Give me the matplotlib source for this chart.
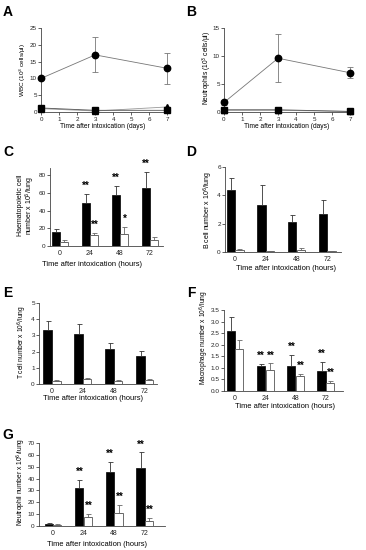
import numpy as np
import matplotlib as mpl
mpl.use('Agg')
import matplotlib.pyplot as plt

W, H, dpi = 366, 550, 100

mpl.rc('font', family=['Liberation Sans', 'DejaVu Sans'])
mpl.rc('axes', linewidth=0.6, edgecolor='#444444')
mpl.rc('xtick', direction='out', color='#444444', labelcolor='#222222')
mpl.rc('ytick', direction='out', color='#444444', labelcolor='#222222')
mpl.rc('xtick.major', size=2., width=0.6, pad=1.5)
mpl.rc('ytick.major', size=2., width=0.6, pad=1.0)

# ---- data -------------------------------------------------
days = [0, 3, 7]
wbc_circ = [10.0, 17.0, 13.0]
wbc_circ_err = [0.3, 5.2, 4.7]
wbc_sq = [1.2, 0.5, 0.5]
wbc_tri = [1.0, 0.3, 1.5]

neu_circ = [1.7, 9.6, 7.0]
neu_circ_err = [0.5, 4.3, 1.0]
neu_sq = [0.4, 0.4, 0.1]
neu_tri = [0.3, 0.3, 0.1]

hours = ['0', '24', '48', '72']

hem_black = [16, 48, 58, 66]
hem_black_err = [3, 11, 10, 18]
hem_white = [5, 12, 14, 7]
hem_white_err = [2, 3, 8, 3]
hem_stars_black = ['', '**', '**', '**']
hem_stars_white = ['', '**', '*', '']

bc_black = [4.4, 3.3, 2.1, 2.7]
bc_black_err = [0.85, 1.4, 0.5, 1.0]
bc_white = [0.15, 0.05, 0.15, 0.05]
bc_white_err = [0.03, 0.02, 0.1, 0.02]

tc_black = [3.35, 3.1, 2.15, 1.75]
tc_black_err = [0.55, 0.6, 0.4, 0.3]
tc_white = [0.2, 0.3, 0.2, 0.25]
tc_white_err = [0.05, 0.08, 0.03, 0.05]

mac_black = [2.6, 1.08, 1.08, 0.87]
mac_black_err = [0.6, 0.1, 0.48, 0.4]
mac_white = [1.83, 0.9, 0.65, 0.35]
mac_white_err = [0.37, 0.3, 0.08, 0.08]
mac_stars_black = ['', '**', '**', '**']
mac_stars_white = ['', '**', '**', '**']

neut_black = [2, 32, 45.5, 49]
neut_black_err = [0.5, 7, 8.5, 13]
neut_white = [1, 7.5, 11, 4.5]
neut_white_err = [0.3, 2.5, 7, 2.5]
neut_stars_black = ['', '**', '**', '**']
neut_stars_white = ['', '**', '**', '**']
# -----------------------------------------------------------

fig = plt.figure(figsize=(W/dpi, H/dpi), dpi=dpi)


def px_axes(left, right, top, bottom):
    return fig.add_axes([left/W, 1-bottom/H, (right-left)/W, (bottom-top)/H])


def style(ax, fs):
    ax.spines['top'].set_visible(False)
    ax.spines['right'].set_visible(False)
    ax.tick_params(labelsize=fs)


def ftext(x, y, s, **kw):
    fig.text(x/W, 1-y/H, s, ha='center', va='center', **kw)


def line_panel(rect, circ, circ_err, sq, tri, ylim, yticks, xlim):
    ax = px_axes(*rect)
    style(ax, 4.5)
    ax.errorbar(days, circ, yerr=circ_err, color='#777777', lw=0.6,
                ecolor='#777777', elinewidth=0.6, capsize=2, capthick=0.6,
                marker='o', ms=4.6, mfc='black', mec='black', clip_on=False, zorder=3)
    ax.plot(days, tri, color='#999999', lw=0.6, marker='^', ms=3.8,
            mfc='black', mec='black', clip_on=False, zorder=3)
    ax.plot(days, sq, color='#555555', lw=0.6, marker='s', ms=4.2,
            mfc='black', mec='black', clip_on=False, zorder=4)
    ax.set_xlim(*xlim)
    ax.set_ylim(*ylim)
    ax.set_xticks(range(0, 8))
    ax.set_yticks(yticks)
    return ax


def bar_panel(rect, xlim, ylim, yticks, black, black_err, white, white_err,
              stars_b=None, stars_w=None, star_off=0.0, yfmt=None):
    ax = px_axes(*rect)
    style(ax, 4.6)
    ax.tick_params(axis='x', labelsize=5)
    x = np.arange(len(hours))
    bw, off = 0.27, 0.14
    ax.bar(x-off, black, bw, color='black', edgecolor='black', lw=0.5,
           yerr=[np.zeros(4), black_err], ecolor='#333333',
           error_kw=dict(elinewidth=0.6, capsize=1.8, capthick=0.6))
    ax.bar(x+off, white, bw, color='white', edgecolor='#555555', lw=0.6,
           yerr=[np.zeros(4), white_err], ecolor='#666666',
           error_kw=dict(elinewidth=0.6, capsize=1.8, capthick=0.6))
    if stars_b:
        for i, s in enumerate(stars_b):
            if s:
                ax.text(x[i]-off, black[i]+black_err[i]+star_off, s,
                        ha='center', va='bottom', fontsize=7, fontweight='bold')
    if stars_w:
        for i, s in enumerate(stars_w):
            if s:
                ax.text(x[i]+off+0.03, white[i]+white_err[i]+star_off, s,
                        ha='center', va='bottom', fontsize=7, fontweight='bold')
    ax.set_xlim(*xlim)
    ax.set_ylim(*ylim)
    ax.set_xticks(x)
    ax.set_xticklabels(hours)
    ax.tick_params(axis='x', length=0, pad=3)
    ax.set_yticks(yticks)
    if yfmt:
        ax.yaxis.set_major_formatter(mpl.ticker.FormatStrFormatter(yfmt))
    return ax


# A
line_panel((41, 170, 28, 112), wbc_circ, wbc_circ_err, wbc_sq, wbc_tri,
           (0, 25), range(0, 26, 5), (0, 7.15))
# B
line_panel((224, 352, 28, 112), neu_circ, neu_circ_err, neu_sq, neu_tri,
           (0, 15), range(0, 16, 5), (0, 7.1))

# C
bar_panel((50, 163, 168, 246), (-0.33, 3.43), (0, 88), range(0, 81, 20),
          hem_black, hem_black_err, hem_white, hem_white_err,
          hem_stars_black, hem_stars_white, star_off=3)
# D
bar_panel((225, 341, 167, 252), (-0.33, 3.45), (0, 6), range(0, 7, 2),
          bc_black, bc_black_err, bc_white, bc_white_err)
# E
bar_panel((39, 157, 303, 384), (-0.42, 3.39), (0, 5), range(0, 6),
          tc_black, tc_black_err, tc_white, tc_white_err)
# F
bar_panel((224, 343, 310, 391), (-0.37, 3.57), (0, 3.5), np.arange(0, 3.6, 0.5),
          mac_black, mac_black_err, mac_white, mac_white_err,
          mac_stars_black, mac_stars_white, star_off=0.12, yfmt='%.1f')
# G
bar_panel((39, 165, 443, 526), (-0.46, 3.66), (0, 70), range(0, 71, 10),
          neut_black, neut_black_err, neut_white, neut_white_err,
          neut_stars_black, neut_stars_white, star_off=2.5)

# panel letters
for s, x, y in [('A', 8, 12), ('B', 191, 12), ('C', 8, 152), ('D', 191, 152),
                ('E', 8, 293), ('F', 191, 293), ('G', 8, 435)]:
    ftext(x, y, s, fontsize=10, fontweight='bold')

# x labels
ftext(103, 127, 'Time after intoxication (days)', fontsize=4.8)
ftext(287, 127, 'Time after intoxication (days)', fontsize=4.8)
ftext(92, 265, 'Time after intoxication (hours)', fontsize=5.4)
ftext(286, 268, 'Time after intoxication (hours)', fontsize=5.4)
ftext(93, 399, 'Time after intoxication (hours)', fontsize=5.4)
ftext(285, 407, 'Time after intoxication (hours)', fontsize=5.4)
ftext(97, 545, 'Time after intoxication (hours)', fontsize=5.4)

# y labels
ftext(23, 70, 'WBC (10$^3$ cells/\u03bcl)', fontsize=4.6, rotation=90)
ftext(207, 68, 'Neutrophils (10$^3$ cells/\u03bcl)', fontsize=4.8, rotation=90)
ftext(27, 205, 'Haematopoietic cell\nnumber x 10$^6$/lung', fontsize=5.0,
      rotation=90, linespacing=1.0)
ftext(208, 210, 'B cell number x 10$^6$/lung', fontsize=5.0, rotation=90)
ftext(22, 342, 'T cell number x 10$^6$/lung', fontsize=4.8, rotation=90)
ftext(204, 338, 'Macrophage number x 10$^6$/lung', fontsize=4.8, rotation=90)
ftext(21, 482, 'Neutrophil number x 10$^6$/lung', fontsize=4.8, rotation=90)

plt.savefig('out.png', dpi=dpi)
